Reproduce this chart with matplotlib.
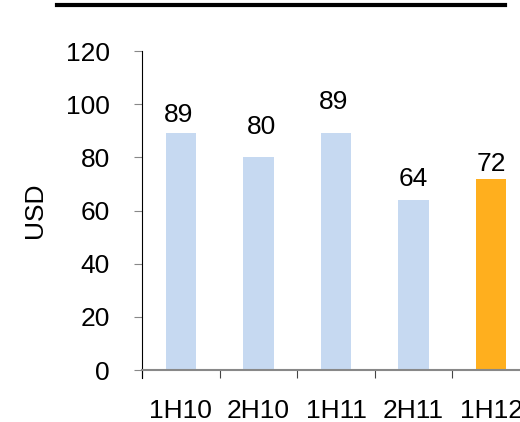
import matplotlib.pyplot as plt
from matplotlib.lines import Line2D

# Half-year values in USD
periods = ['1H10', '2H10', '1H11', '2H11', '1H12']
values = [89, 80, 89, 64, 72]
colors = ['#C6D9F1', '#C6D9F1', '#C6D9F1', '#C6D9F1', '#FFAF1E']
yticks = [0, 20, 40, 60, 80, 100, 120]
# hand-placed label nudges (points)
label_dx = [-1.5, 2.5, -2, 0, 0]
label_dy = [8, 16.5, 17.3, 10, 5.8]

plt.rcParams['font.family'] = ['Liberation Sans', 'DejaVu Sans']
fs = 19

fig = plt.figure(figsize=(5.2, 4.22), dpi=100)
# plot area runs past the right edge, so the last category is cut off
ax = fig.add_axes([142 / 520, 52 / 422, 388 / 520, 319 / 422])

x = range(len(periods))
bars = ax.bar(x, values, width=0.39, color=colors)
for b, v, dx, dy in zip(bars, values, label_dx, label_dy):
    ax.annotate(str(v), (b.get_x() + b.get_width() / 2, v),
                xytext=(dx, dy), textcoords='offset points',
                ha='center', va='baseline', fontsize=fs)

ax.set_xlim(-0.5, len(periods) - 0.5)
ax.set_ylim(0, 120)
ax.set_yticks(yticks)
ax.set_xticks([i - 0.5 for i in x], minor=False)
ax.set_xticklabels([])
ax.set_xticks(list(x), minor=True)
ax.set_xticklabels(periods, minor=True)
ax.tick_params(axis='x', which='major', direction='out', length=6, color='#444444')
ax.tick_params(axis='x', which='minor', length=0, pad=21, labelsize=fs)
ax.tick_params(axis='y', direction='out', length=6, color='#888888', pad=17, labelsize=fs)

ax.spines['top'].set_visible(False)
ax.spines['right'].set_visible(False)
ax.spines['left'].set_color('black')
ax.spines['left'].set_bounds(-3, 120)
ax.spines['bottom'].set_color('#888888')
ax.spines['bottom'].set_linewidth(1.5)

ax.set_ylabel('USD', fontsize=fs, labelpad=14)

# heavy rule across the top
fig.add_artist(Line2D([57 / 520, 505 / 520], [1 - 5 / 422, 1 - 5 / 422],
                      color='black', linewidth=3, transform=fig.transFigure))

fig.savefig('out.png', dpi=100)
